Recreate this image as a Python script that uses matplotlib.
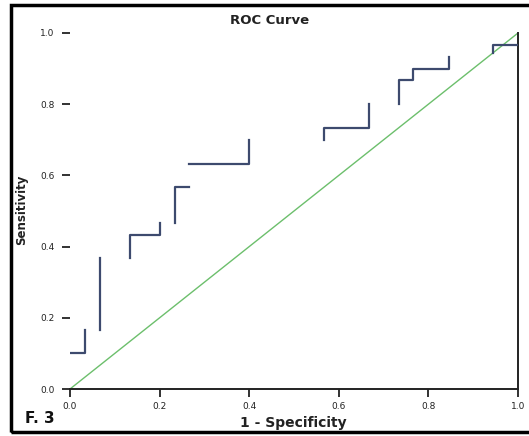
import numpy as np
import matplotlib
matplotlib.use("Agg")
import matplotlib.pyplot as plt
from matplotlib.patches import Rectangle

# visible fragments of the ROC step curve (nan = gap in the scanned picture)
nan = np.nan
fpr = [0.0, 1/30, 1/30, nan,
       2/30, 2/30, nan,
       4/30, 4/30, 6/30, 6/30, nan,
       7/30, 7/30, 8/30, nan,
       8/30, 12/30, 12/30, nan,
       17/30, 17/30, 20/30, 20/30, nan,
       22/30, 22/30, 23/30, 23/30, 25.4/30, 25.4/30, nan,
       28.3/30, 28.3/30, 1.0]
tpr = [3/30, 3/30, 5/30, nan,
       5/30, 11/30, nan,
       11/30, 13/30, 13/30, 14/30, nan,
       14/30, 17/30, 17/30, nan,
       19/30, 19/30, 21/30, nan,
       21/30, 22/30, 22/30, 24/30, nan,
       24/30, 26/30, 26/30, 27/30, 27/30, 28/30, nan,
       28.3/30, 29/30, 29/30]

ref_x = [0.0, 1.0]
ref_y = [0.0, 1.0]

ticks = [0.0, 0.2, 0.4, 0.6, 0.8, 1.0]
tick_labels = ["0.0", "0.2", "0.4", "0.6", "0.8", "1.0"]

W, H = 529, 436
fig = plt.figure(figsize=(W / 100, H / 100), dpi=100)
ax = fig.add_axes([70 / W, 1 - 389 / H, (518 - 70) / W, (389 - 33) / H])

ax.plot(ref_x, ref_y, color="#6cbf6c", lw=1.0, zorder=2)
ax.plot(fpr, tpr, color="#3d4a6e", lw=1.6, zorder=3)

ax.set_xlim(0, 1)
ax.set_ylim(0, 1)
ax.set_xticks(ticks)
ax.set_xticklabels(tick_labels)
ax.set_yticks(ticks)
ax.set_yticklabels(tick_labels)
ax.tick_params(direction="out", length=6, width=1.3, labelsize=6.5,
               colors="#222222")
ax.tick_params(axis="x", pad=3)
ax.tick_params(axis="y", pad=5)
ax.spines["top"].set_visible(False)
ax.spines["left"].set_visible(False)
for s in ["bottom", "right"]:
    ax.spines[s].set_linewidth(1.4)
    ax.spines[s].set_color("#222222")

fig.text(270 / W, 1 - 21 / H, "ROC Curve", ha="center", va="center",
         fontsize=9.5, fontweight="bold", color="#222222")
fig.text(293 / W, 1 - 423 / H, "1 - Specificity", ha="center", va="center",
         fontsize=10, fontweight="bold", color="#222222")
fig.text(22 / W, 1 - 210 / H, "Sensitivity", ha="center", va="center",
         rotation=90, fontsize=8.5, fontweight="bold", color="#222222")
fig.text(25 / W, 1 - 418 / H, "F. 3", ha="left", va="center",
         fontsize=11, fontweight="bold", color="#111111")

# scanned frame around the figure
fig.patches.append(Rectangle((11 / W, 1 - 432 / H), 0.995, (432 - 5) / H,
                             transform=fig.transFigure, fill=False,
                             lw=2.5, edgecolor="black"))

fig.savefig("out.png", dpi=100)
